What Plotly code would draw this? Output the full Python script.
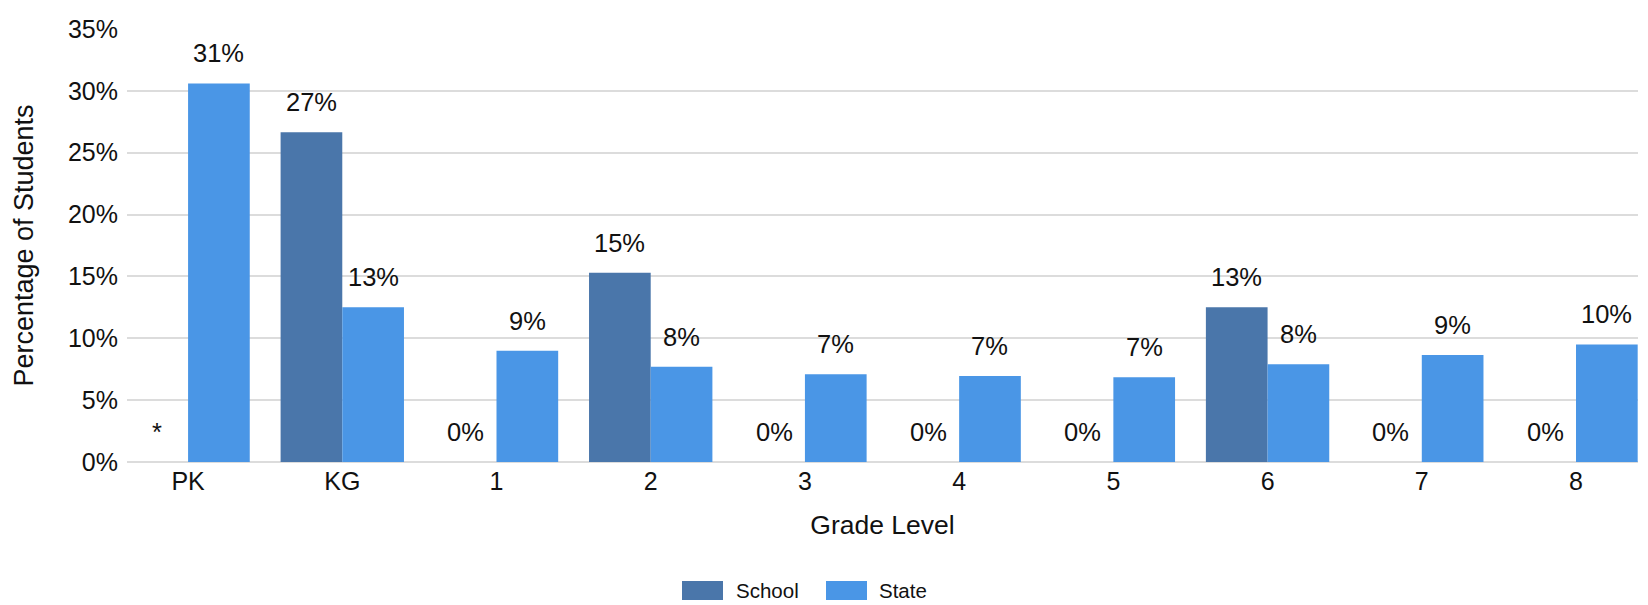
import plotly.graph_objects as go

grades = ["PK", "KG", "1", "2", "3", "4", "5", "6", "7", "8"]
school = [None, 26.65, 0, 15.3, 0, 0, 0, 12.5, 0, 0]
state = [30.6, 12.5, 9.0, 7.7, 7.1, 6.95, 6.85, 7.9, 8.65, 9.5]

SCHOOL_COLOR = "#4a76aa"
STATE_COLOR = "#4a96e6"
FONT = "Liberation Sans, Arial, sans-serif"
TXT = "#111111"

fig = go.Figure()
fig.add_trace(go.Bar(name="School", x=grades, y=school, marker=dict(color=SCHOOL_COLOR, line=dict(width=0)), showlegend=False))
fig.add_trace(go.Bar(name="State", x=grades, y=state, marker=dict(color=STATE_COLOR, line=dict(width=0)), showlegend=False))

bargap = 0.2
half = (1 - bargap) / 4  # offset of each bar center from category center

def lab(v):
    if v is None:
        return "*"
    return f"{int(v + 0.5)}%"

annotations = []
for i, g in enumerate(grades):
    for vals, off in ((school, -half), (state, half)):
        v = vals[i]
        annotations.append(dict(
            x=i + off, y=(v or 0), xref="x", yref="y", text=lab(v),
            showarrow=False, yanchor="middle", yshift=30,
            font=dict(family=FONT, size=25.5, color=TXT),
        ))

# manual legend
legend_items = [("School", SCHOOL_COLOR, 682, 734), ("State", STATE_COLOR, 826, 877)]
shapes = []
W, H = 1648, 605
for name, col, sx, tx in legend_items:
    shapes.append(dict(type="rect", xref="paper", yref="paper",
                       x0=(sx - 127) / 1511, x1=(sx + 41 - 127) / 1511,
                       y0=(462 - 600) / 433, y1=(462 - 581) / 433,
                       fillcolor=col, line=dict(width=0)))
    annotations.append(dict(x=(tx - 127) / 1511, y=(462 - 590) / 433, xref="paper", yref="paper",
                            text=name, showarrow=False, xanchor="left", yanchor="middle",
                            font=dict(family=FONT, size=20.5, color=TXT)))

fig.update_layout(
    width=W, height=H,
    margin=dict(l=127, r=10, t=29, b=143),
    paper_bgcolor="white", plot_bgcolor="white",
    barmode="group", bargap=bargap, bargroupgap=0,
    font=dict(family=FONT, color=TXT),
    annotations=annotations, shapes=shapes,
    showlegend=False,
    xaxis=dict(type="category", range=[-0.396, 9.402], showgrid=False, zeroline=False,
               showline=False, ticks="", tickfont=dict(size=25, color=TXT),
               ticklabelstandoff=2,
               title=dict(text="Grade Level", font=dict(size=26.5, color=TXT), standoff=21)),
    yaxis=dict(range=[0, 35], dtick=5, ticksuffix="%", showgrid=True,
               gridcolor="#dcdcdc", gridwidth=2, zeroline=True, zerolinecolor="#dcdcdc",
               zerolinewidth=2, showline=False, ticks="", tickfont=dict(size=25, color=TXT),
               ticklabelstandoff=8,
               title=dict(text="Percentage of Students", font=dict(size=27, color=TXT), standoff=26)),
)

fig.write_html("out.html", config={"displayModeBar": False},
               post_script="document.body.style.margin='0';document.body.style.overflow='hidden';")
